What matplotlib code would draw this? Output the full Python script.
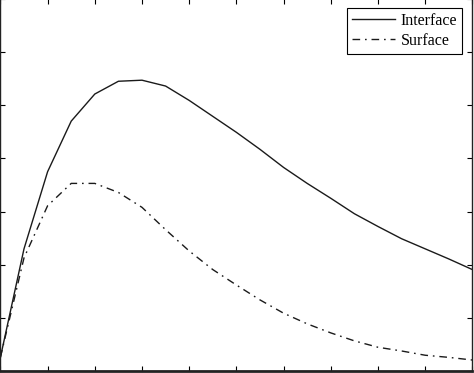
"""Interface vs surface profile, MATLAB-style cropped axes (no tick labels)."""

import matplotlib
matplotlib.use("Agg")  # headless
import matplotlib.pyplot as plt

# x positions (axis units, ticks at every integer)
x = [0.0, 0.5, 1.0, 1.5, 2.0, 2.5, 3.0, 3.5, 4.0, 4.5, 5.0,
     5.5, 6.0, 6.5, 7.0, 7.5, 8.0, 8.5, 9.0, 9.5, 10.0]

interface = [0.26, 2.30, 3.75, 4.70, 5.21, 5.45, 5.47, 5.36, 5.09, 4.79, 4.49,
             4.17, 3.83, 3.53, 3.25, 2.96, 2.72, 2.49, 2.30, 2.11, 1.91]

surface = [0.26, 2.13, 3.11, 3.53, 3.53, 3.36, 3.08, 2.66, 2.26, 1.91, 1.62,
           1.34, 1.09, 0.89, 0.72, 0.57, 0.45, 0.38, 0.30, 0.26, 0.21]

labels = ["Interface", "Surface"]


def main():
    fig = plt.figure(figsize=(4.74, 3.73), dpi=100)
    # axes nearly fill the picture; left and top spines fall just off the edge
    ax = fig.add_axes([0.4 / 474, 1.8 / 373, 472.0 / 474, 372.4 / 373])

    ax.plot(x, interface, color="#1a1a1a", linewidth=1.0, label=labels[0])
    ax.plot(x, surface, color="#1a1a1a", linewidth=1.0,
            linestyle=(0, (5.5, 3.5, 1.2, 3.5)), label=labels[1])

    ax.set_xlim(0, 10)
    ax.set_ylim(0, 7)
    ax.set_xticks(range(0, 11))
    ax.set_yticks(range(0, 8))
    ax.tick_params(direction="in", length=3.6, width=0.8,
                   top=True, right=True,
                   labelbottom=False, labelleft=False)
    for side in ("bottom", "right", "top", "left"):
        ax.spines[side].set_linewidth(1.0)
        ax.spines[side].set_color("#222222")
    ax.spines["bottom"].set_linewidth(2.0)

    leg = ax.legend(loc="upper right", bbox_to_anchor=(0.978, 0.975),
                    borderaxespad=0, fancybox=False, framealpha=1,
                    edgecolor="black", handlelength=2.7, handletextpad=0.35,
                    borderpad=0.3, labelspacing=0.25,
                    prop={"family": "Liberation Serif", "size": 11.5})
    leg.get_frame().set_linewidth(0.8)

    fig.savefig("out.png", dpi=100)
    plt.close(fig)


if __name__ == "__main__":
    main()
